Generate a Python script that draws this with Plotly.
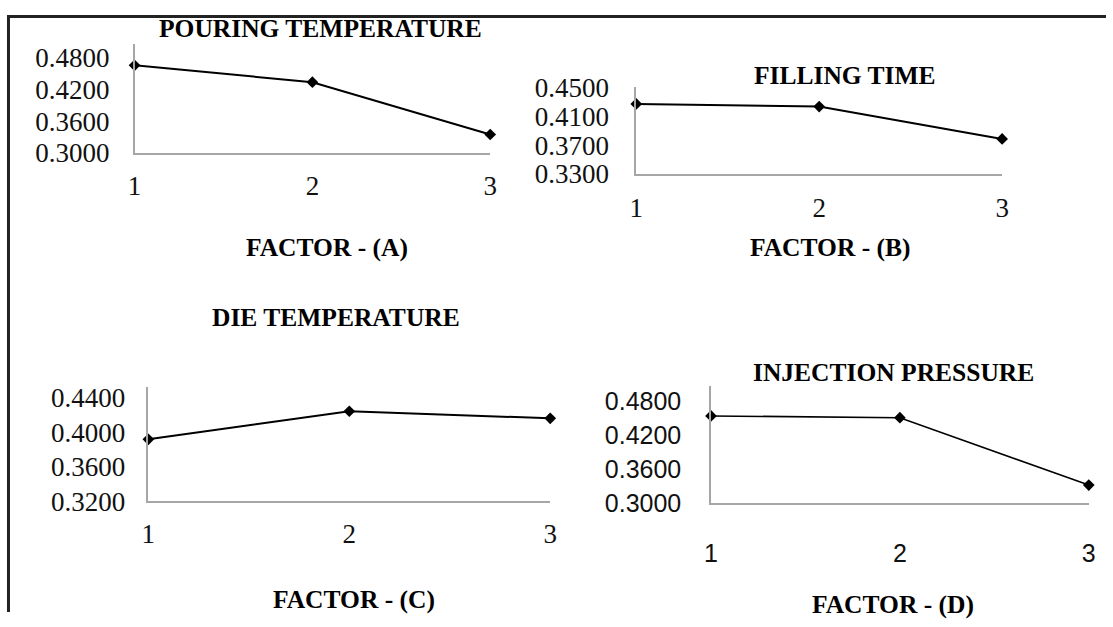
import plotly.graph_objects as go

W, H = 1113, 627

levels = [1, 2, 3]
pouring_temp = [0.466, 0.434, 0.335]
filling_time = [0.427, 0.4233, 0.3785]
die_temp = [0.3917, 0.4242, 0.416]
injection_pressure = [0.4535, 0.4504, 0.3313]

titles = ["POURING TEMPERATURE", "FILLING TIME", "DIE TEMPERATURE", "INJECTION PRESSURE"]
xtitles = ["FACTOR - (A)", "FACTOR - (B)", "FACTOR - (C)", "FACTOR - (D)"]
ytick_a = [0.30, 0.36, 0.42, 0.48]
ytick_b = [0.33, 0.37, 0.41, 0.45]
ytick_c = [0.32, 0.36, 0.40, 0.44]
ytick_d = [0.30, 0.36, 0.42, 0.48]

series = [pouring_temp, filling_time, die_temp, injection_pressure]
yticks = [ytick_a, ytick_b, ytick_c, ytick_d]
yranges = [[0.30, 0.5067], [0.33, 0.45], [0.32, 0.4524], [0.30, 0.5065]]

# the photographed page appears inset/scaled; map target picture pixels to page pixels
def px(tx):
    return (tx - 7) / 0.987


def py(ty):
    return (ty - 14.5) / 0.951


# target picture pixel layout: (x0, x1, ytop, ybottom)
boxes = [(134.5, 490, 43.3, 152.3), (636, 1001.7, 86.7, 173.3),
         (148.3, 550, 386, 500), (710.7, 1088.3, 385, 501.7)]
serif = "Liberation Serif, Times New Roman, serif"
sans = "Liberation Sans, Arial, sans-serif"
tick_fonts = [serif, serif, serif, sans]
tick_sizes = [27, 27, 27, 25]
xticklen = [8, 9, 8, 27]
yticklen = [18, 20, 16, 23]
title_pos = [(320, 28.3), (845, 75), (335.5, 317), (893, 371.7)]
xtitle_pos = [(326.8, 246.7), (830, 246.7), (353.6, 598.3), (893, 603)]
line_w = [2, 2, 2, 1.6]

fig = go.Figure()
layout = dict(width=W, height=H, margin=dict(l=0, r=0, t=0, b=0, pad=0),
              paper_bgcolor="white", plot_bgcolor="white", showlegend=False)
annotations = []
for i in range(4):
    n = "" if i == 0 else str(i + 1)
    x0, x1, yt, yb = boxes[i]
    fig.add_trace(go.Scatter(
        x=levels, y=series[i], mode="lines+markers",
        xaxis="x" + n, yaxis="y" + n,
        line=dict(color="black", width=line_w[i]),
        marker=dict(symbol="diamond", size=9, color="black"),
        cliponaxis=False,
    ))
    layout["xaxis" + n] = dict(
        domain=[px(x0) / W, px(x1) / W], anchor="y" + n, range=[1, 3],
        tickvals=levels, ticktext=[str(v) for v in levels],
        showgrid=False, zeroline=False, showline=True, linecolor="#a6a6a6", linewidth=1.5,
        ticks="outside", ticklen=xticklen[i], tickcolor="rgba(0,0,0,0)",
        tickfont=dict(family=tick_fonts[i], size=tick_sizes[i], color="#111"),
        fixedrange=True,
    )
    layout["yaxis" + n] = dict(
        domain=[1 - py(yb) / H, 1 - py(yt) / H], anchor="x" + n, range=yranges[i],
        tickvals=yticks[i], ticktext=["%.4f" % v for v in yticks[i]],
        showgrid=False, zeroline=False, showline=True, linecolor="#a6a6a6", linewidth=1.5,
        ticks="outside", ticklen=yticklen[i], tickcolor="rgba(0,0,0,0)",
        tickfont=dict(family=tick_fonts[i], size=tick_sizes[i], color="#111"),
        fixedrange=True,
    )
    tx, ty = title_pos[i]
    annotations.append(dict(text="<b>" + titles[i] + "</b>", x=px(tx) / W, y=1 - py(ty) / H,
                            xref="paper", yref="paper", xanchor="center", yanchor="middle",
                            showarrow=False, font=dict(family=serif, size=25.5, color="black")))
    ax, ay = xtitle_pos[i]
    annotations.append(dict(text="<b>" + xtitles[i] + "</b>", x=px(ax) / W, y=1 - py(ay) / H,
                            xref="paper", yref="paper", xanchor="center", yanchor="middle",
                            showarrow=False, font=dict(family=serif, size=25.5, color="black")))

layout["annotations"] = annotations
layout["shapes"] = [
    dict(type="line", xref="paper", yref="paper", x0=0, x1=1.0, y0=1 - 1.5 / H, y1=1 - 1.5 / H,
         line=dict(color="#222", width=3)),
    dict(type="line", xref="paper", yref="paper", x0=1.5 / W, x1=1.5 / W, y0=0, y1=1,
         line=dict(color="#222", width=3)),
]
fig.update_layout(**layout)
fig.write_html("out.html", config={"displayModeBar": False},
               post_script="document.body.style.margin='0';")
